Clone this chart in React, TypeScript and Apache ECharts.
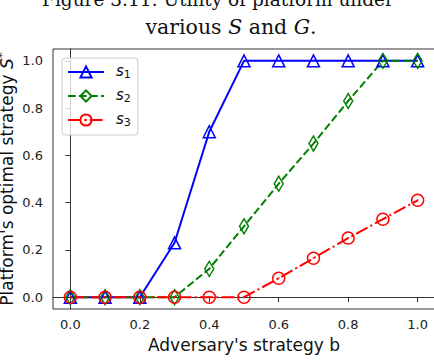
import React, { useEffect, useRef } from "react";
import * as echarts from "echarts";

// Adversary's strategy b (x) and platform's optimal strategy S* for each setting
const bValues = [0, 0.1, 0.2, 0.3, 0.4, 0.5, 0.6, 0.7, 0.8, 0.9, 1.0];
const s1Values = [0, 0, 0, 0.23, 0.7, 1, 1, 1, 1, 1, 1];
const s2Values = [0, 0, 0, 0, 0.12, 0.3, 0.48, 0.65, 0.83, 1, 1];
const s3Values = [0, 0, 0, 0, 0, 0, 0.08, 0.165, 0.25, 0.33, 0.41];
const seriesNames = ["s1", "s2", "s3"];
const xTicks = [0, 0.2, 0.4, 0.6, 0.8, 1.0];
const yTicks = [0, 0.2, 0.4, 0.6, 0.8, 1.0];
const captionLines = ["Figure 3.11: Utility of platform under", "various {i|S} and {i|G}."];

const FONT = "DejaVu Sans";
const SERIF = "DejaVu Serif";

const TRIANGLE = "path://M0,0L1,2L-1,2Z";
const THIN_DIAMOND = "path://M0,-1L0.6,0L0,1L-0.6,0Z";
const ODOT =
  "path://M-1,0A1,1,0,1,1,1,0A1,1,0,1,1,-1,0ZM-0.04,0A0.04,0.04,0,1,1,0.04,0A0.04,0.04,0,1,1,-0.04,0Z";

function lineSeries(
  name: string,
  values: number[],
  color: string,
  symbol: string,
  symbolSize: number[],
  dash: any
) {
  return {
    name,
    type: "line",
    data: bValues.map((b, i) => [b, values[i]]),
    color,
    symbol,
    symbolSize,
    showAllSymbol: true,
    lineStyle: { color, width: 2, type: dash },
    itemStyle: { color: "rgba(255,255,255,0)", borderColor: color, borderWidth: 1.5 },
    emphasis: { disabled: true },
  };
}

export default function App() {
  const ref = useRef<HTMLDivElement>(null);

  useEffect(() => {
    if (!ref.current) return;
    const chart = echarts.init(ref.current, null, { renderer: "svg" });
    chart.setOption({
      animation: false,
      grid: {
        left: 53,
        top: 49,
        right: -1,
        bottom: 53,
        outerBoundsMode: "none",
        containLabel: false,
        show: true,
        borderColor: "#333",
        borderWidth: 1,
        backgroundColor: "transparent",
      },
      xAxis: {
        type: "value",
        min: -0.05,
        max: 1.05,
        name: "Adversary's strategy b",
        nameLocation: "middle",
        nameGap: 27,
        nameTextStyle: { fontFamily: FONT, fontSize: 17, color: "#111" },
        axisLine: { show: true, lineStyle: { color: "#333", width: 1 } },
        axisTick: { show: true, length: 5, customValues: xTicks, lineStyle: { color: "#333" } },
        axisLabel: {
          customValues: xTicks,
          formatter: (v: number) => v.toFixed(1),
          fontFamily: FONT,
          fontSize: 13,
          color: "#222",
          margin: 9,
        },
        splitLine: { show: false },
      },
      yAxis: {
        type: "value",
        min: -0.05,
        max: 1.05,
        name: "Platform's optimal strategy {i|S}{sup|*}",
        nameLocation: "middle",
        nameGap: 36,
        nameMoveOverlap: false,
        nameTextStyle: {
          fontFamily: FONT,
          fontSize: 17,
          color: "#111",
          rich: {
            i: { fontFamily: FONT, fontSize: 17, fontStyle: "italic", color: "#111" },
            sup: { fontFamily: FONT, fontSize: 12, color: "#111", padding: [0, 0, 9, 0] },
          },
        },
        axisLine: { show: true, lineStyle: { color: "#333", width: 1 } },
        axisTick: { show: true, length: 5, customValues: yTicks, lineStyle: { color: "#333" } },
        axisLabel: {
          customValues: yTicks,
          formatter: (v: number) => v.toFixed(1),
          fontFamily: FONT,
          fontSize: 13,
          color: "#222",
          margin: 10,
        },
        splitLine: { show: false },
      },
      legend: {
        data: seriesNames,
        orient: "vertical",
        left: 62,
        top: 58,
        padding: [5, 7, 7, 5],
        itemWidth: 36,
        itemHeight: 14,
        itemGap: 7,
        selectedMode: false,
        backgroundColor: "rgba(255,255,255,0.8)",
        borderColor: "#ccc",
        borderWidth: 1,
        borderRadius: 3,
        formatter: (name: string) => `{i|s}{sub|${name.slice(1)}}`,
        textStyle: {
          padding: [0, 0, 0, 7],
          rich: {
            i: {
              fontFamily: FONT,
              fontSize: 15,
              fontStyle: "italic",
              color: "#111",
              lineHeight: 16,
              padding: [0, 0, 2, 0],
              verticalAlign: "bottom",
            },
            sub: {
              fontFamily: FONT,
              fontSize: 11,
              color: "#111",
              lineHeight: 11,
              verticalAlign: "bottom",
            },
          },
        },
      },
      graphic: [
        {
          type: "text",
          x: 218,
          y: -0.5,
          style: {
            text: captionLines[0],
            fontFamily: SERIF,
            fontSize: 18.5,
            fill: "#111",
            align: "center",
            verticalAlign: "middle",
          },
        },
        {
          type: "text",
          x: 231,
          y: 27,
          style: {
            text: captionLines[1],
            fontFamily: SERIF,
            fontSize: 20.5,
            fill: "#111",
            align: "center",
            verticalAlign: "middle",
            rich: {
              i: { fontFamily: SERIF, fontSize: 20.5, fontStyle: "italic", fill: "#111" },
            },
          },
        },
      ],
      series: [
        lineSeries("s1", s1Values, "#0000ff", TRIANGLE, [12, 12], "solid"),
        lineSeries("s2", s2Values, "#008000", THIN_DIAMOND, [9, 15], [7.7, 3.3]),
        lineSeries("s3", s3Values, "#ff0000", ODOT, [12, 12], [13, 3.3, 2, 3.3]),
      ],
    });
    return () => chart.dispose();
  }, []);

  return (
    <div style={{ position: "absolute", left: 0, top: 0, width: 434, height: 362, background: "#fff" }}>
      <div ref={ref} style={{ width: 434, height: 362 }} />
    </div>
  );
}
